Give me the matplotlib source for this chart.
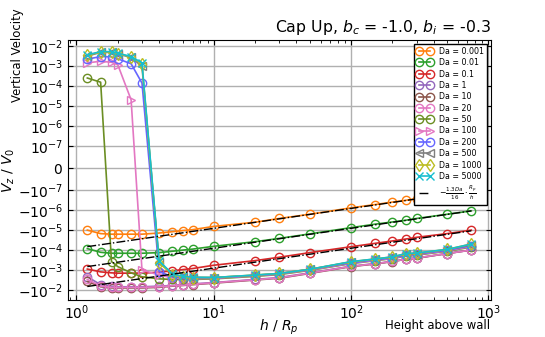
import matplotlib
matplotlib.use("Agg")
import matplotlib.pyplot as plt
from matplotlib.ticker import NullLocator

# heights above wall, h / R_p
h = [1.2, 1.5, 1.8, 2, 2.5, 3, 4, 5, 6, 7, 10, 20, 30, 50,
     100, 150, 200, 250, 300, 500, 750]

da_labels = ["0.001", "0.01", "0.1", "1", "10", "20", "50",
             "100", "200", "500", "1000", "5000"]

# vertical velocity V_z / V_0 for each Da
v_0001 = [-1.0e-5, -1.5e-5, -1.6e-5, -1.6e-5, -1.6e-5, -1.6e-5, -1.4e-5, -1.2e-5,
          -1.05e-5, -9.5e-6, -6.5e-6, -4.0e-6, -2.6e-6, -1.6e-6, -7.6e-7, -5.2e-7,
          -3.9e-7, -3.2e-7, -2.6e-7, -1.6e-7, -1.08e-7]
v_001 = [-8.5e-5, -1.3e-4, -1.45e-4, -1.45e-4, -1.45e-4, -1.45e-4, -1.35e-4, -1.15e-4,
         -1.0e-4, -9.0e-5, -6.5e-5, -3.8e-5, -2.6e-5, -1.55e-5, -7.5e-6, -5.0e-6,
         -3.9e-6, -3.2e-6, -2.6e-6, -1.6e-6, -1.08e-6]
v_01 = [-9.0e-4, -1.25e-3, -1.4e-3, -1.45e-3, -1.45e-3, -1.45e-3, -1.3e-3, -1.1e-3,
        -9.5e-4, -8.5e-4, -5.8e-4, -3.4e-4, -2.3e-4, -1.35e-4, -6.8e-5, -4.6e-5,
        -3.5e-5, -2.8e-5, -2.3e-5, -1.5e-5, -1.0e-5]
v_1 = [-2.2e-3, -5.5e-3, -6.5e-3, -7.0e-3, -7.0e-3, -7.0e-3, -6.5e-3, -6.0e-3,
       -5.5e-3, -5.0e-3, -4.3e-3, -3.0e-3, -2.4e-3, -1.4e-3, -6.5e-4, -4.8e-4,
       -3.7e-4, -2.9e-4, -2.5e-4, -1.5e-4, -1.0e-4]
v_10 = [-3.8e-3, -7.0e-3, -8.0e-3, -8.0e-3, -8.0e-3, -8.0e-3, -7.5e-3, -6.5e-3,
        -6.0e-3, -5.5e-3, -4.6e-3, -3.2e-3, -2.6e-3, -1.5e-3, -6.8e-4, -5.0e-4,
        -3.8e-4, -2.9e-4, -2.6e-4, -1.5e-4, -1.0e-4]
v_20 = [-3.0e-3, -6.5e-3, -7.5e-3, -7.5e-3, -7.5e-3, -7.5e-3, -7.0e-3, -6.2e-3,
        -5.8e-3, -5.3e-3, -4.4e-3, -3.1e-3, -2.5e-3, -1.45e-3, -6.6e-4, -4.9e-4,
        -3.7e-4, -2.9e-4, -2.5e-4, -1.5e-4, -1.0e-4]
v_50 = [2.6e-4, 1.6e-4, -3.8e-4, -6.8e-4, -1.4e-3, -2.2e-3, -2.8e-3, -3.0e-3,
        -3.0e-3, -3.0e-3, -2.8e-3, -2.1e-3, -1.7e-3, -1.05e-3, -4.8e-4, -3.4e-4,
        -2.7e-4, -2.0e-4, -1.8e-4, -1.15e-4, -7.0e-5]
v_100 = [1.5e-3, 1.8e-3, 1.6e-3, 1.2e-3, 2.1e-5, -1.0e-3, -1.8e-3, -2.5e-3,
         -2.7e-3, -2.8e-3, -2.6e-3, -2.0e-3, -1.6e-3, -1.0e-3, -4.6e-4, -3.3e-4,
         -2.6e-4, -1.9e-4, -1.7e-4, -1.1e-4, -6.5e-5]
v_200 = [2.3e-3, 3.1e-3, 3.0e-3, 2.4e-3, 1.35e-3, 1.45e-4, -1.2e-3, -2.2e-3,
         -2.5e-3, -2.6e-3, -2.5e-3, -1.9e-3, -1.55e-3, -9.5e-4, -4.4e-4, -3.1e-4,
         -2.5e-4, -1.8e-4, -1.6e-4, -1.05e-4, -6.0e-5]
v_500 = [3.3e-3, 5.0e-3, 5.0e-3, 4.2e-3, 2.8e-3, 1.0e-3, -4.0e-4, -1.6e-3,
         -2.2e-3, -2.4e-3, -2.4e-3, -1.85e-3, -1.5e-3, -9.3e-4, -4.0e-4, -2.9e-4,
         -2.3e-4, -1.6e-4, -1.5e-4, -9.5e-5, -5.5e-5]
v_1000 = [3.6e-3, 5.3e-3, 5.3e-3, 4.4e-3, 3.0e-3, 1.3e-3, -4.5e-4, -1.7e-3,
          -2.2e-3, -2.4e-3, -2.4e-3, -1.8e-3, -1.5e-3, -9.3e-4, -3.9e-4, -2.8e-4,
          -2.2e-4, -1.55e-4, -1.45e-4, -9.3e-5, -5.0e-5]
v_5000 = [3.8e-3, 5.5e-3, 5.5e-3, 4.6e-3, 3.1e-3, 1.5e-3, -3.5e-4, -1.6e-3,
          -2.1e-3, -2.3e-3, -2.4e-3, -1.8e-3, -1.5e-3, -9.3e-4, -3.8e-4, -2.8e-4,
          -2.2e-4, -1.5e-4, -1.4e-4, -9.3e-5, -5.0e-5]

series = [v_0001, v_001, v_01, v_1, v_10, v_20, v_50,
          v_100, v_200, v_500, v_1000, v_5000]

colors = ['#ff7f0e', '#2ca02c', '#d62728', '#9467bd', '#8c564b', '#e377c2',
          '#6b8e23', '#e377c2', '#6666ff', '#7f7f7f', '#bcbd22', '#17becf']
markers = ['o', 'o', 'o', 'o', 'o', 'o', 'o', '>', 'o', '<', 'd', 'x']

# Da values that get the far-field reference line
theory_da = [0.001, 0.01, 0.1]

fig, ax = plt.subplots(figsize=(5.45, 3.37), dpi=100)

for vals, lab, col, mk in zip(series, da_labels, colors, markers):
    ax.plot(h, vals, color=col, marker=mk, markerfacecolor='none',
            markersize=6, linewidth=1.2, label="Da = " + lab)

for i, da in enumerate(theory_da):
    ax.plot(h, [-1.3 * da / 16 / hh for hh in h], 'k-.', linewidth=1,
            label=r"$-\frac{1.3Da}{16}\cdot\frac{R_p}{h}$" if i == 0 else None)

ax.set_xscale('log')
ax.set_yscale('symlog', linthresh=1e-7)
ax.set_ylim(-3.2e-2, 2.0e-2)
yt = [-1e-2, -1e-3, -1e-4, -1e-5, -1e-6, -1e-7, 0,
      1e-7, 1e-6, 1e-5, 1e-4, 1e-3, 1e-2]
ax.set_yticks(yt)
ax.yaxis.set_minor_locator(NullLocator())

ax.tick_params(which='both', direction='in', top=True, right=True)
ax.tick_params(axis='x', pad=2.5)
ax.grid(True, which='major', color='#b0b0b0', linewidth=1)
ax.set_axisbelow(True)

ax.set_xlabel(r"$h$ / $R_p$", fontsize=10, labelpad=-3)
ax.set_ylabel(r"$V_z$ / $V_0$", fontsize=10, labelpad=1)
ax.set_title(r"Cap Up, $b_c$ = -1.0, $b_i$ = -0.3", loc='right', fontsize=11.3)
ax.text(1.0, -0.1, "Height above wall", transform=ax.transAxes,
        ha='right', va='center', fontsize='small')
ax.text(-0.121, 0.944, "Vertical Velocity", transform=ax.transAxes,
        rotation=90, ha='center', va='center', fontsize='small')

leg = ax.legend(loc='upper right', fontsize=5.7, numpoints=2,
                labelspacing=0.3, fancybox=False, framealpha=1,
                edgecolor='black', borderaxespad=0.4)
leg.get_frame().set_linewidth(1)

fig.savefig("out.png", dpi=100)
